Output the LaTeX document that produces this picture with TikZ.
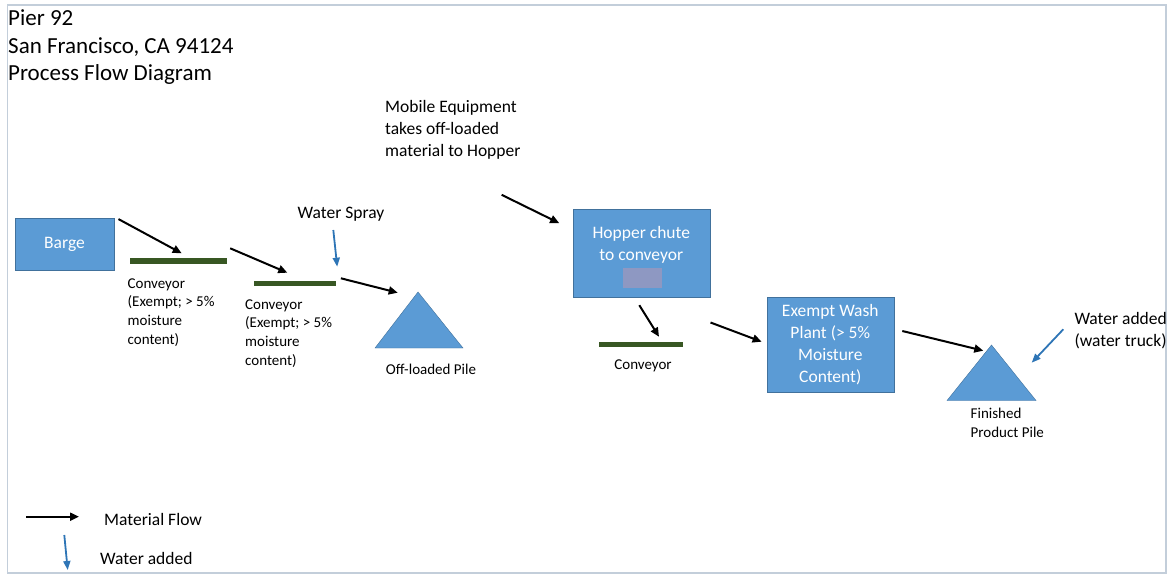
\documentclass[tikz,border=0pt]{standalone}
\usepackage{fontspec}
\setmainfont{Carlito}
\usetikzlibrary{arrows.meta}

\definecolor{boxblue}{HTML}{5B9BD5}
\definecolor{boxline}{HTML}{41719C}
\definecolor{beltgreen}{HTML}{385723}
\definecolor{waterblue}{HTML}{2E75B6}
\definecolor{framegray}{HTML}{C3CEDA}
\definecolor{patchlilac}{HTML}{8E98C2}

\newcommand{\titlefont}{\fontsize{23}{27.5}\selectfont}
\newcommand{\bodyfont}{\fontsize{17.5}{22}\selectfont}
\newcommand{\smallfont}{\fontsize{15}{18.7}\selectfont}

\begin{document}
\begin{tikzpicture}[x=1pt, y=-1pt,
  box/.style={rectangle, draw=boxline, fill=boxblue, text=white, align=center, inner sep=0pt, font=\bodyfont},
  belt/.style={rectangle, fill=beltgreen, minimum height=5.5pt, inner sep=0pt},
  pile/.style={draw=boxline, fill=boxblue},
  flow/.style={-{Triangle[length=9pt,width=8pt]}, line width=2pt, black},
  water/.style={-{Triangle[length=9pt,width=7pt]}, line width=1.8pt, waterblue},
  lbl/.style={align=left, inner sep=0pt, font=\bodyfont},
  small/.style={align=left, inner sep=0pt, font=\smallfont}]
\useasboundingbox (0,0) rectangle (1167,575);
\draw[framegray, line width=1.5pt] (7.5,5) rectangle (1166,573);

\node (title) [anchor=west, align=left, inner sep=0pt, font=\titlefont] at (8,47.5) {Pier 92\\San Francisco, CA 94124\\Process Flow Diagram};

\node (barge) [box, minimum width=99pt, minimum height=52pt] at (64.5,244) {Barge};
\node (conv1) [belt, minimum width=97pt] at (178.5,261) {};
\node (conv1lbl) [small, anchor=west] at (127.5,312.5) {Conveyor\\(Exempt; > 5\%\\moisture\\content)};
\node (conv2) [belt, minimum width=82pt] at (295,283.3) {};
\node (conv2lbl) [small, anchor=west] at (245,333.5) {Conveyor\\(Exempt; > 5\%\\moisture\\content)};
\node (spray) [lbl] at (341,214) {Water Spray};

\filldraw[pile] (375,348) -- (418,292) -- (463,348) -- cycle;
\coordinate (offtop) at (418,292);
\node (offlbl) [small] at (431,369) {Off-loaded Pile};

\node (mobile) [lbl, anchor=west] at (385,130) {Mobile Equipment\\takes off-loaded\\material to Hopper};

\node (hopper) [box, minimum width=137pt, minimum height=88pt] at (641.3,253.3) {};
\node (hoppertxt) [lbl, align=center, text=white] at ([yshift=8pt]hopper.center) {Hopper chute\\to conveyor};
\node (hopperpatch) [rectangle, fill=patchlilac, minimum width=39pt, minimum height=20pt, inner sep=0pt] at (642.3,278) {};
\node (conv3) [belt, minimum width=84pt, minimum height=5pt] at (641,344.5) {};
\node (conv3lbl) [small] at (643,365.5) {Conveyor};

\node (wash) [box, minimum width=127pt, minimum height=95pt] at (830.3,344.2) {Exempt Wash\\Plant (> 5\%\\Moisture\\Content)};

\filldraw[pile] (947,400.5) -- (991.5,345) -- (1036,400.5) -- cycle;
\coordinate (fintop) at (991.5,345);
\node (finlbl) [small, anchor=west] at (970.5,422.5) {Finished\\Product Pile};
\node (truck) [lbl, anchor=west] at (1074.3,330.5) {Water added\\(water truck)};

% material flow
\draw[flow] ([shift={(4.3,1.3)}]barge.north east) -- ([shift={(3.2,-7.7)}]conv1.center);
\draw[flow] ([shift={(3,-12.7)}]conv1.east) -- ([shift={(-7.7,-10.6)}]conv2.center);
\draw[flow] ([shift={(4.7,-5)}]conv2.east) -- ([shift={(-20.3,0.7)}]offtop);
\draw[flow] ([shift={(-71,-14.3)}]hopper.north west) -- ([shift={(-13.4,14)}]hopper.north west);
\draw[flow] ([shift={(-2,7.7)}]hopper.south) -- ([shift={(18,-7.8)}]conv3.center);
\draw[flow] ([shift={(0.5,25)}]hopper.south east) -- ([shift={(-5,-2.5)}]wash.west);
\draw[flow] ([shift={(8.3,-13.2)}]wash.east) -- ([shift={(-8.2,5.7)}]fintop);

% water
\draw[water] ([shift={(-7.7,16)}]spray.center) -- ([shift={(1,-16.6)}]conv2.east);
\draw[water] ([shift={(-11,-1.2)}]truck.west) -- ([shift={(-42.6,32.2)}]truck.west);

% legend
\node (legflow) [lbl, anchor=west] at (104,519.3) {Material Flow};
\node (legwater) [lbl, anchor=west] at (100,558.3) {Water added};
\draw[flow] ([shift={(-78,-2.6)}]legflow.west) -- ([shift={(-25,-2.6)}]legflow.west);
\draw[water] ([shift={(-35.7,-23.3)}]legwater.west) -- ([shift={(-32.3,11.7)}]legwater.west);
\end{tikzpicture}
\end{document}
